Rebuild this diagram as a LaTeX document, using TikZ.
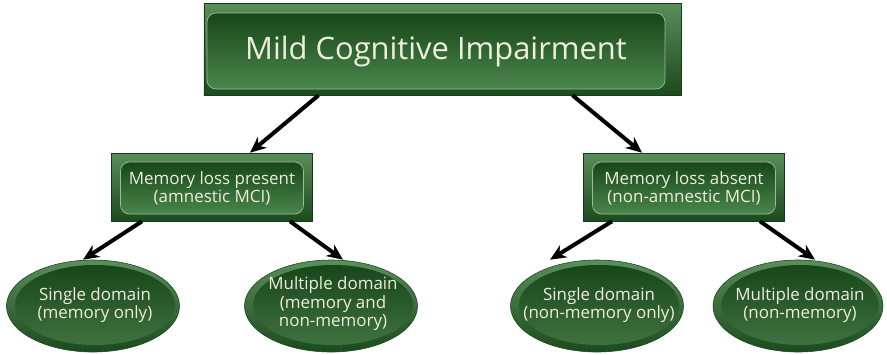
\documentclass[tikz,border=0pt]{standalone}
\usepackage{fontspec}
\setmainfont{Open Sans}
\usetikzlibrary{arrows.meta,shapes.geometric}
\definecolor{txt}{HTML}{EFEDDC}
\definecolor{gA}{HTML}{5A8E5A}
\definecolor{gB}{HTML}{1C4A1F}
\definecolor{gC}{HTML}{184619}
\definecolor{gD}{HTML}{4A864C}
\tikzset{
  frame/.style={rectangle, inner sep=0pt, top color=gA, bottom color=gB,
    draw=gB!80!black, line width=0.6bp},
  face/.style={rectangle, rounded corners=9bp, inner sep=0pt, top color=gC,
    bottom color=gD, draw=gA!60!white, line width=0.7bp, text=txt, align=center},
  rim/.style={ellipse, inner sep=0pt, top color=gA, bottom color=gB,
    draw=gB, line width=0.6bp},
  core/.style={ellipse, inner sep=0pt, top color=gC, bottom color=gD!85!black},
  label/.style={text=txt, align=center, inner sep=0pt,
    font=\fontsize{17}{18.5}\selectfont},
  arr/.style={line width=4bp, black,
    -{Stealth[length=16bp, width=14bp, inset=5bp]}},
}
\begin{document}
\begin{tikzpicture}[x=1bp, y=-1bp]
\useasboundingbox (0,0) rectangle (887,354);

% main box
\node[frame, minimum width=477bp, minimum height=92bp] (mci) at (442.5,49) {};
\node[face, minimum width=458bp, minimum height=76bp,
      font=\fontsize{31}{35}\selectfont] (mcit) at (436,51) {Mild Cognitive Impairment};

% second level
\node[frame, minimum width=201bp, minimum height=68bp] (amn) at (212,187) {};
\node[face, minimum width=183bp, minimum height=52bp,
      font=\fontsize{17}{18}\selectfont] (amnt) at (212,188)
  {Memory loss present\\(amnestic MCI)};
\node[frame, minimum width=201bp, minimum height=68bp] (non) at (684,187) {};
\node[face, minimum width=183bp, minimum height=52bp,
      font=\fontsize{17}{18}\selectfont] (nont) at (684,188)
  {Memory loss absent\\(non-amnestic MCI)};

% third level
\node[rim, minimum width=173bp, minimum height=92bp] (e1) at (93,306) {};
\node[core, minimum width=160bp, minimum height=80bp] (e1c) at (95,305) {};
\node[label] (e1t) at (95,305) {Single domain\\(memory only)};
\node[rim, minimum width=173bp, minimum height=92bp] (e2) at (331,306) {};
\node[core, minimum width=160bp, minimum height=80bp] (e2c) at (333,305) {};
\node[label] (e2t) at (333,304) {Multiple domain\\(memory and\\non-memory)};
\node[rim, minimum width=173bp, minimum height=92bp] (e3) at (597,306) {};
\node[core, minimum width=160bp, minimum height=80bp] (e3c) at (599,305) {};
\node[label] (e3t) at (599,305) {Single domain\\(non-memory only)};
\node[rim, minimum width=170bp, minimum height=92bp] (e4) at (798,306) {};
\node[core, minimum width=157bp, minimum height=80bp] (e4c) at (800,305) {};
\node[label] (e4t) at (800,305) {Multiple domain\\(non-memory)};

% arrows
\draw[arr] ([xshift=-124bp]mci.south) -- ([xshift=38bp]amn.north);
\draw[arr] ([xshift=130bp]mci.south) -- ([xshift=-42bp]non.north);
\draw[arr] ([xshift=-70bp]amn.south) -- ([xshift=-10bp]e1.north);
\draw[arr] ([xshift=78bp]amn.south) -- ([xshift=12bp]e2.north);
\draw[arr] ([xshift=-72bp]non.south) -- ([xshift=-47bp]e3.north);
\draw[arr] ([xshift=76bp]non.south) -- ([xshift=17bp]e4.north);
\end{tikzpicture}
\end{document}
